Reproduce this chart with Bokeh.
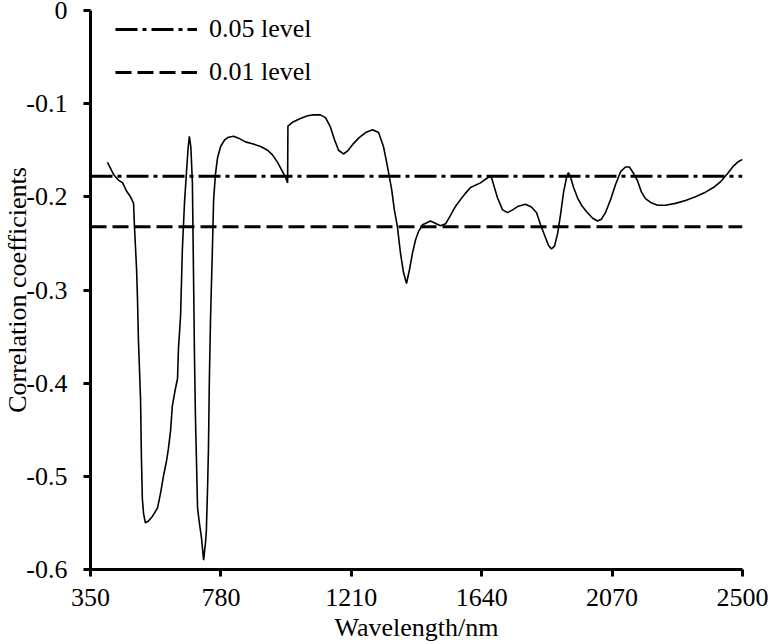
from bokeh.plotting import figure
from bokeh.models import FixedTicker, Legend, LegendItem, Range1d
from bokeh.embed import file_html
from bokeh.resources import INLINE

# ---- data ----
wavelength = [406, 426, 442, 456, 469, 482, 492, 495, 502, 505, 508, 515, 518, 521, 525, 531,
              541, 554, 571, 581, 591, 601, 607, 614, 620, 630, 637, 640, 647, 653, 660, 667,
              672, 676, 681, 686, 690, 693, 696, 700, 703, 709, 716, 723, 729, 732, 736, 739,
              742, 746, 752, 756, 762, 769, 779, 792, 805, 822, 838, 861, 884, 911, 934, 950,
              967, 980, 993, 1000, 1001, 1016, 1042, 1066, 1085, 1108, 1125, 1141, 1155, 1168,
              1184, 1197, 1214, 1234, 1257, 1280, 1300, 1316, 1326, 1333, 1343, 1352, 1362,
              1372, 1382, 1392, 1402, 1412, 1422, 1432, 1445, 1471, 1504, 1521, 1537, 1554,
              1570, 1587, 1603, 1636, 1662, 1672, 1682, 1692, 1709, 1725, 1742, 1761, 1784,
              1804, 1821, 1834, 1847, 1860, 1870, 1880, 1890, 1900, 1910, 1920, 1926, 1933,
              1943, 1956, 1969, 1986, 2006, 2022, 2035, 2048, 2065, 2081, 2098, 2114, 2127,
              2141, 2154, 2167, 2180, 2197, 2220, 2246, 2279, 2312, 2345, 2378, 2404, 2427,
              2451, 2470, 2487, 2500]
correlation = [-0.163, -0.176, -0.182, -0.185, -0.194, -0.200, -0.207, -0.232, -0.278, -0.310,
               -0.353, -0.417, -0.481, -0.524, -0.540, -0.550, -0.548, -0.543, -0.534, -0.518,
               -0.499, -0.483, -0.470, -0.451, -0.424, -0.406, -0.395, -0.363, -0.328, -0.256,
               -0.206, -0.171, -0.147, -0.135, -0.147, -0.185, -0.292, -0.374, -0.435, -0.491,
               -0.534, -0.550, -0.566, -0.590, -0.572, -0.559, -0.513, -0.470, -0.395, -0.328,
               -0.256, -0.203, -0.176, -0.158, -0.146, -0.139, -0.136, -0.135, -0.137, -0.141,
               -0.143, -0.146, -0.150, -0.155, -0.163, -0.171, -0.179, -0.185, -0.124, -0.120,
               -0.116, -0.113, -0.112, -0.112, -0.115, -0.125, -0.139, -0.150, -0.154, -0.151,
               -0.144, -0.137, -0.131, -0.128, -0.131, -0.146, -0.162, -0.174, -0.192, -0.214,
               -0.232, -0.260, -0.281, -0.293, -0.278, -0.260, -0.246, -0.237, -0.230, -0.226,
               -0.231, -0.229, -0.220, -0.210, -0.203, -0.196, -0.190, -0.185, -0.179, -0.179,
               -0.190, -0.201, -0.214, -0.217, -0.214, -0.210, -0.208, -0.211, -0.217, -0.230,
               -0.241, -0.252, -0.256, -0.253, -0.240, -0.219, -0.195, -0.179, -0.174, -0.179,
               -0.190, -0.201, -0.209, -0.216, -0.223, -0.226, -0.224, -0.217, -0.203, -0.187,
               -0.173, -0.168, -0.168, -0.175, -0.183, -0.195, -0.202, -0.206, -0.209, -0.209,
               -0.207, -0.204, -0.200, -0.195, -0.190, -0.184, -0.175, -0.167, -0.162, -0.160]

level_names = ["0.05 level", "0.01 level"]
level_values = [-0.178, -0.232]

x_ticks = [350, 780, 1210, 1640, 2070, 2500]
x_tick_labels = ["350", "780", "1210", "1640", "2070", "2500"]
y_ticks = [-0.6, -0.5, -0.4, -0.3, -0.2, -0.1, 0.0]
y_tick_labels = ["-0.6", "-0.5", "-0.4", "-0.3", "-0.2", "-0.1", "0"]

x_title = "Wavelength/nm"
y_title = "Correlation coefficients"

FONT = "Liberation Serif"
FS = "26px"

p = figure(width=770, height=644, output_backend="svg", toolbar_location=None,
           x_range=Range1d(x_ticks[0], x_ticks[-1]), y_range=Range1d(y_ticks[0], y_ticks[-1]),
           min_border_left=90, min_border_right=28, min_border_top=10, min_border_bottom=72)
p.outline_line_color = None
p.grid.visible = False
p.background_fill_color = "white"
p.border_fill_color = "white"

r05 = p.line(x=[x_ticks[0], x_ticks[-1]], y=[level_values[0]] * 2, line_color="black",
             line_width=3, line_dash="22 5 4 5", line_cap="butt")
r01 = p.line(x=[x_ticks[0], x_ticks[-1]], y=[level_values[1]] * 2, line_color="black",
             line_width=3, line_dash="16 6", line_cap="butt")
p.line(x=wavelength, y=correlation, line_color="black", line_width=1.6)

for ax in (p.xaxis[0], p.yaxis[0]):
    ax.axis_line_width = 3
    ax.axis_line_color = "black"
    ax.major_tick_line_width = 3
    ax.major_tick_line_color = "black"
    ax.major_tick_out = 7
    ax.major_tick_in = 0
    ax.minor_tick_out = 0
    ax.minor_tick_in = 0
    ax.major_label_text_font = FONT
    ax.major_label_text_font_size = FS
    ax.major_label_text_color = "black"
    ax.axis_label_text_font = FONT
    ax.axis_label_text_font_size = FS
    ax.axis_label_text_font_style = "normal"
    ax.axis_label_text_color = "black"

p.xaxis[0].ticker = FixedTicker(ticks=x_ticks)
p.xaxis[0].major_label_overrides = {t: s for t, s in zip(x_ticks, x_tick_labels)}
p.xaxis[0].major_label_standoff = 12
p.xaxis[0].axis_label = x_title
p.xaxis[0].axis_label_standoff = 4

p.yaxis[0].ticker = FixedTicker(ticks=y_ticks)
p.yaxis[0].major_label_overrides = {t: s for t, s in zip(y_ticks, y_tick_labels)}
p.yaxis[0].major_label_standoff = 16
p.yaxis[0].axis_label = y_title
p.yaxis[0].axis_label_standoff = -9

legend = Legend(items=[LegendItem(label=level_names[0], renderers=[r05]),
                       LegendItem(label=level_names[1], renderers=[r01])],
                location=(25, 482), orientation="vertical", glyph_width=82, glyph_height=30,
                label_height=30, label_standoff=12, spacing=13, padding=0, margin=0,
                border_line_color=None, background_fill_alpha=0,
                label_text_font=FONT, label_text_font_size=FS, label_text_color="black")
p.add_layout(legend)

open("out.html", "w").write(file_html(p, INLINE))
